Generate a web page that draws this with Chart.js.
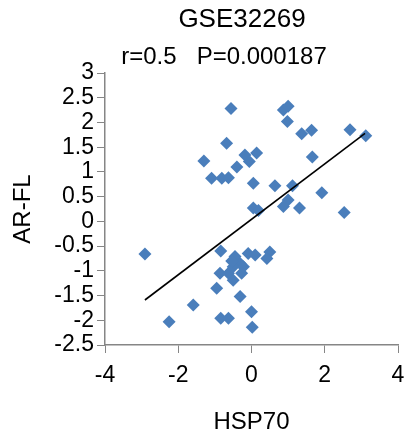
<!DOCTYPE html>
<html>
<head>
<meta charset="utf-8">
<script src="https://cdn.jsdelivr.net/npm/chart.js@4"></script>
<style>
  html, body { margin: 0; padding: 0; background: #fff; }
  #wrap { width: 405px; height: 433px; }
</style>
</head>
<body>
<div id="wrap"><canvas id="scatterChart" width="405" height="433"></canvas></div>
<script>
const chartTitle = "GSE32269";
const chartSubtitle = "r=0.5   P=0.000187";

const hsp70 = [-0.56, -0.68, -1.30, -0.18, 0.14, -0.06, -0.40, -1.09, -0.81, -0.63,
  0.05, 0.64, 0.87, 1.00, 0.98, 1.37, 1.64, 2.69, 3.12, 1.66,
  1.12, 1.92, 1.00, 0.87, 1.31, 2.53, 0.05, 0.19, -0.84, -0.45,
  -0.09, 0.10, 0.50, 0.42, -0.31, -0.50, -0.86, -0.63, -0.27, -0.50,
  -0.95, -0.31, -1.59, 0.00, -0.84, -0.63, 0.02, -2.91, -2.25, -0.54, -0.22];
const arfl = [2.28, 1.58, 1.22, 1.34, 1.38, 1.21, 1.10, 0.87, 0.87, 0.88,
  0.77, 0.72, 2.25, 2.33, 2.02, 1.77, 1.84, 1.85, 1.73, 1.30,
  0.72, 0.58, 0.43, 0.30, 0.27, 0.18, 0.27, 0.22, -0.60, -0.71,
  -0.65, -0.68, -0.62, -0.75, -0.85, -0.92, -1.05, -1.05, -1.05, -1.19,
  -1.35, -1.52, -1.69, -1.83, -1.96, -1.96, -2.14, -0.66, -2.03, -0.80, -0.92];

// trend line end points
const fitX = [-2.91, 3.10];
const fitY = [-1.59, 1.78];

const xTicks = [-4, -2, 0, 2, 4];
const yTicks = [-2.5, -2, -1.5, -1, -0.5, 0, 0.5, 1, 1.5, 2, 2.5, 3];

const axisGray = "#868686";
const fontFamily = "'Liberation Sans', Arial, sans-serif";

const points = hsp70.map((x, i) => ({ x, y: arfl[i] }));
const fitLine = fitX.map((x, i) => ({ x, y: fitY[i] }));

const titlePlugin = {
  id: "titles",
  afterDraw(chart) {
    const ctx = chart.ctx;
    ctx.save();
    ctx.fillStyle = "#000";
    ctx.textAlign = "center";
    ctx.textBaseline = "middle";
    ctx.font = "26px " + fontFamily;
    ctx.fillText(chartTitle, 242, 20);
    ctx.font = "24px " + fontFamily;
    ctx.fillText(chartSubtitle, 224, 57);
    ctx.restore();
  }
};

const ctx = document.getElementById("scatterChart").getContext("2d");
new Chart(ctx, {
  type: "scatter",
  data: {
    datasets: [
      {
        data: points,
        pointStyle: "rectRot",
        pointRadius: 6.5,
        pointHoverRadius: 6.5,
        backgroundColor: "#4a7ebb",
        borderColor: "#4a7ebb",
        borderWidth: 0,
        order: 2
      },
      {
        type: "line",
        data: fitLine,
        borderColor: "#000",
        borderWidth: 1.6,
        pointRadius: 0,
        fill: false,
        order: 1
      }
    ]
  },
  plugins: [titlePlugin],
  options: {
    responsive: false,
    animation: false,
    layout: { padding: { top: 73, right: 7, bottom: 0, left: 0 } },
    plugins: {
      legend: { display: false },
      tooltip: { enabled: false }
    },
    scales: {
      x: {
        type: "linear",
        min: xTicks[0],
        max: xTicks[xTicks.length - 1],
        afterBuildTicks: (scale) => { scale.ticks = xTicks.map(v => ({ value: v })); },
        afterFit: (scale) => {
          scale.height = 88;
          scale.paddingLeft = 0;
          scale.paddingRight = 0;
        },
        ticks: {
          color: "#000", font: { size: 23, family: fontFamily }, padding: 9,
          autoSkip: false, maxRotation: 0, callback: (v) => String(v)
        },
        grid: { drawOnChartArea: false, tickLength: 8, color: axisGray },
        border: { color: axisGray, width: 1.5 },
        title: {
          display: true,
          text: "HSP70",
          color: "#000",
          font: { size: 24, family: fontFamily },
          padding: { top: 0, bottom: -4 }
        }
      },
      y: {
        type: "linear",
        min: yTicks[0],
        max: yTicks[yTicks.length - 1],
        afterBuildTicks: (scale) => { scale.ticks = yTicks.map(v => ({ value: v })); },
        afterFit: (scale) => { scale.width = 105; },
        ticks: {
          color: "#000", font: { size: 23, family: fontFamily }, padding: 3,
          autoSkip: false, callback: (v) => String(v)
        },
        grid: { drawOnChartArea: false, tickLength: 8, color: axisGray },
        border: { color: axisGray, width: 1.5 },
        title: {
          display: true,
          text: "AR-FL",
          color: "#000",
          font: { size: 24, family: fontFamily },
          padding: { top: 9, bottom: 0 }
        }
      }
    }
  }
});
</script>
</body>
</html>
